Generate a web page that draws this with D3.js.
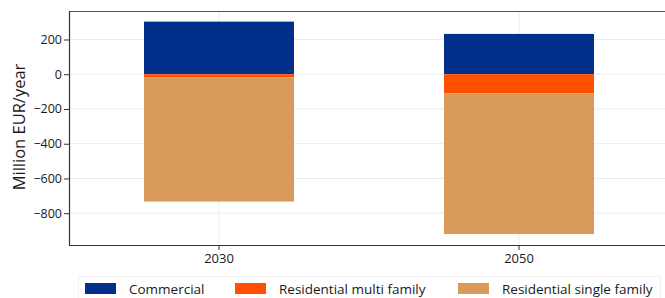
<!DOCTYPE html>
<html>
<head>
<meta charset="utf-8">
<script src="https://cdn.jsdelivr.net/npm/d3@7"></script>
<style>
  html, body { margin: 0; padding: 0; background: #fff; overflow: hidden; }
  text { font-family: "Open Sans", "Noto Sans", sans-serif; fill: #1a1a1a; }
</style>
</head>
<body>
<div id="content"></div>
<script>
const years = ["2030", "2050"];
const seriesNames = ["Commercial", "Residential multi family", "Residential single family"];
const commercial = [303, 232];
const multiFamily = [-17, -109];
const singleFamily = [-716, -811];
const colors = ["#00308a", "#ff5000", "#d99a5b"];
const yTicks = [200, 0, -200, -400, -600, -800];

const width = 665, height = 298;
const svg = d3.select("#content").append("svg")
    .attr("width", width).attr("height", height)
    .style("display", "block");

const plotLeft = 69, plotTop = 11, plotBottom = 245;
const plotRight = 669;

let x = d3.scaleBand().domain(years).range([plotLeft, plotRight]).paddingInner(0.5).paddingOuter(0.25);
let y = d3.scaleLinear().domain([-983, 364]).range([plotBottom, plotTop]);

// grid
svg.append("g").selectAll("line").data(yTicks).enter().append("line")
    .attr("x1", plotLeft).attr("x2", plotRight)
    .attr("y1", d => y(d)).attr("y2", d => y(d))
    .attr("stroke", "#ebebeb").attr("stroke-width", 1);
svg.append("g").selectAll("line").data(years).enter().append("line")
    .attr("x1", d => x(d) + x.bandwidth() / 2).attr("x2", d => x(d) + x.bandwidth() / 2)
    .attr("y1", plotTop).attr("y2", plotBottom)
    .attr("stroke", "#ebebeb").attr("stroke-width", 1);

// stacked bars: positives up from 0, negatives down from 0
let rows = years.map((yr, i) => {
    let vals = [commercial[i], multiFamily[i], singleFamily[i]];
    let pos = 0, neg = 0;
    return vals.map((v, k) => {
        let y0, y1;
        if (v >= 0) { y0 = pos; y1 = pos + v; pos = y1; }
        else { y0 = neg; y1 = neg + v; neg = y1; }
        return { year: yr, k: k, y0: y0, y1: y1 };
    });
}).flat();

svg.append("g").selectAll("rect").data(rows).enter().append("rect")
    .attr("x", d => x(d.year))
    .attr("width", x.bandwidth())
    .attr("y", d => y(Math.max(d.y0, d.y1)))
    .attr("height", d => Math.abs(y(d.y0) - y(d.y1)))
    .attr("fill", d => colors[d.k]);

// panel border (top) and axes
svg.append("line").attr("x1", plotLeft).attr("x2", plotRight).attr("y1", plotTop + 0.5).attr("y2", plotTop + 0.5)
    .attr("stroke", "#555").attr("stroke-width", 1.2);

let yAxis = svg.append("g").attr("transform", `translate(${plotLeft},0)`)
    .call(d3.axisLeft(y).tickValues(yTicks).tickSize(5).tickPadding(2).tickFormat(d => d < 0 ? "\u2212" + Math.abs(d) : d));
yAxis.select(".domain").attr("d", `M0.5,${plotTop}V${plotBottom}`).attr("stroke", "#333").attr("stroke-width", 1.2);
yAxis.selectAll(".tick line").attr("stroke", "#333");
yAxis.selectAll("text").style("font-size", "12.5px").attr("fill", "#333");

let xAxis = svg.append("g").attr("transform", `translate(0,${plotBottom})`)
    .call(d3.axisBottom(x).tickSize(5).tickPadding(4));
xAxis.select(".domain").attr("d", `M${plotLeft},0.5H${plotRight}`).attr("stroke", "#333").attr("stroke-width", 1.2);
xAxis.selectAll(".tick line").attr("stroke", "#333");
xAxis.selectAll("text").style("font-size", "13px").attr("fill", "#1a1a1a");

svg.append("text")
    .attr("transform", "translate(25,127) rotate(-90)")
    .attr("text-anchor", "middle")
    .style("font-size", "16.5px")
    .text("Million EUR/year");

// legend
svg.append("rect").attr("x", 78.5).attr("y", 276.5).attr("width", 582).attr("height", 30)
    .attr("fill", "none").attr("stroke", "#f2f2f2");
const legendX = [85, 235, 458];
let lg = svg.append("g").selectAll("g").data(seriesNames).enter().append("g")
    .attr("transform", (d, i) => `translate(${legendX[i]},283)`);
lg.append("rect").attr("width", 31).attr("height", 11).attr("fill", (d, i) => colors[i]);
lg.append("text").attr("x", 44).attr("y", 10.5).style("font-size", "13.5px").text(d => d);
</script>
</body>
</html>
